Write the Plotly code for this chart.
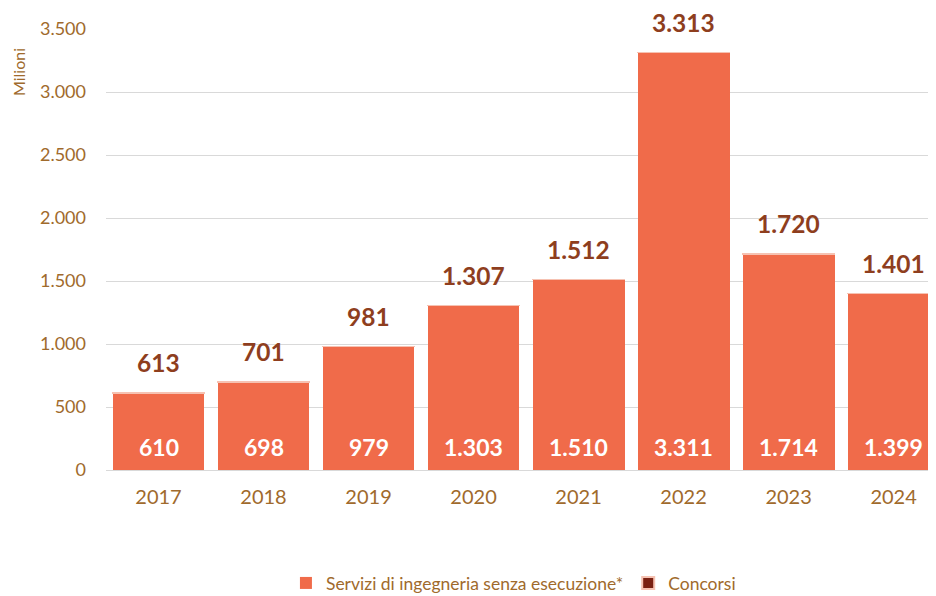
import plotly.graph_objects as go

years = ["2017", "2018", "2019", "2020", "2021", "2022", "2023", "2024"]
servizi = [610, 698, 979, 1303, 1510, 3311, 1714, 1399]
concorsi = [3, 3, 2, 4, 2, 2, 6, 2]
totali = [613, 701, 981, 1307, 1512, 3313, 1720, 1401]
y_ticks = [0, 500, 1000, 1500, 2000, 2500, 3000, 3500]

FONT = "Lato, 'Open Sans', sans-serif"
AXIS_COL = "#A06A2C"
TOT_COL = "#8E3E1E"
ORANGE = "#F06B4A"
DARK = "#7A2012"

def fmt(v):
    return f"{v:,}".replace(",", ".")

fig = go.Figure()
fig.add_trace(go.Bar(x=years, y=servizi, name="Servizi di ingegneria senza esecuzione*",
                     marker=dict(color=ORANGE, line=dict(width=0))))
fig.add_trace(go.Bar(x=years, y=concorsi, name="Concorsi",
                     marker=dict(color=DARK, line=dict(width=1, color="#F6C2B2"))))

for i, (s, t) in enumerate(zip(servizi, totali)):
    fig.add_annotation(x=i, y=t, xref="x", yref="y", text=f"<b>{fmt(t)}</b>", showarrow=False,
                       yshift=30, font=dict(family=FONT, size=24.5, color=TOT_COL))
    fig.add_annotation(x=i, y=0, xref="x", yref="y", text=f"<b>{fmt(s)}</b>", showarrow=False,
                       yshift=23, font=dict(family=FONT, size=23, color="white"))

fig.add_annotation(xref="paper", yref="paper", x=-0.105, y=1.0, xanchor="center", yanchor="top",
                   text="Milioni", textangle=-90, showarrow=False,
                   font=dict(family=FONT, size=16, color=AXIS_COL), yshift=-17)

fig.update_layout(
    width=936, height=588,
    margin=dict(l=98, r=0, t=21, b=126),
    barmode="stack", bargap=0.125,
    plot_bgcolor="white", paper_bgcolor="white",
    separators=",.",
    font=dict(family=FONT, color=AXIS_COL),
    showlegend=True,
    legend=dict(orientation="h", xref="container", yref="container",
                x=0.54, xanchor="center", y=0.022, yanchor="middle",
                font=dict(family=FONT, size=17.5, color=AXIS_COL),
                itemsizing="constant", traceorder="normal"),
    xaxis=dict(type="category", range=[-0.5, 7.48], showgrid=False, showline=False, ticks="",
               tickfont=dict(family=FONT, size=20, color=AXIS_COL), ticklabelstandoff=13),
    yaxis=dict(range=[0, 3500], tickvals=y_ticks, tickformat=",.0f",
               showgrid=True, gridcolor="#D9D9D9", gridwidth=1.3,
               zeroline=True, zerolinecolor="#D9D9D9", zerolinewidth=1.3,
               tickfont=dict(family=FONT, size=18, color=AXIS_COL), ticklabelstandoff=19),
)

fig.write_html("out.html")
